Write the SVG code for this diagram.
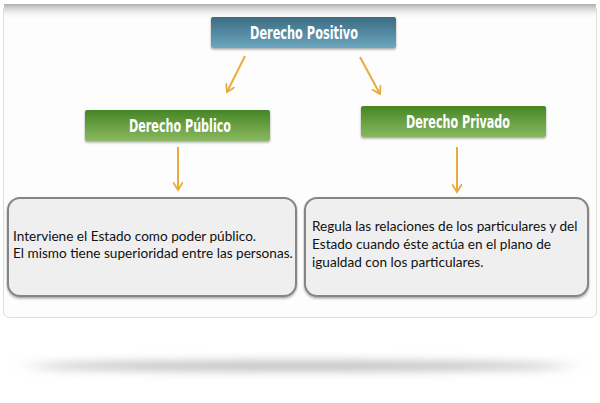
<svg xmlns="http://www.w3.org/2000/svg" width="600" height="403" viewBox="0 0 600 403">
<defs>
<linearGradient id="gBlue" x1="0" y1="0" x2="0" y2="1"><stop offset="0" stop-color="#3c6b82"/><stop offset="1" stop-color="#6ba7bf"/></linearGradient>
<linearGradient id="gGreen" x1="0" y1="0" x2="0" y2="1"><stop offset="0" stop-color="#468626"/><stop offset="1" stop-color="#8ab860"/></linearGradient>
<linearGradient id="gTop" x1="0" y1="0" x2="0" y2="1"><stop offset="0" stop-color="#b0b0b0"/><stop offset="1" stop-color="#ffffff" stop-opacity="0"/></linearGradient>
<filter id="blur" x="-10%" y="-200%" width="120%" height="500%"><feGaussianBlur stdDeviation="12 5"/></filter>
<filter id="sh" x="-5%" y="-10%" width="110%" height="130%"><feDropShadow dx="0" dy="1.5" stdDeviation="1.2" flood-color="#000" flood-opacity="0.35"/></filter>
<marker id="ah" viewBox="0 0 10 10" refX="8" refY="5" markerWidth="10" markerHeight="10" markerUnits="userSpaceOnUse" orient="auto"><path d="M0,0 L8,5 L0,10" fill="none" stroke="#e8ab3c" stroke-width="1.8"/></marker>
</defs>
<style>
.title{font-family:"DejaVu Sans",sans-serif;font-weight:bold;font-size:17.5px;fill:#ffffff;text-anchor:middle}
.body{font-family:"Lato","Liberation Sans",sans-serif;font-size:13.6px;fill:#111111}
.box{fill:#efefef;stroke:#858585;stroke-width:2}
.conn{stroke:#e8ab3c;stroke-width:2;fill:none}
</style>
<rect width="600" height="403" fill="#ffffff"/>
<ellipse cx="300" cy="366" rx="270" ry="5" fill="#bdbdbd" filter="url(#blur)"/>
<g id="panel">
<rect x="3.5" y="4.5" width="593" height="313" rx="6" fill="#fdfdfd" stroke="#dddddd" stroke-width="1"/>
<rect x="4" y="4" width="592" height="16" fill="url(#gTop)"/>
</g>
<g id="connectors">
<line class="conn" x1="245" y1="56" x2="227" y2="92" marker-end="url(#ah)"/>
<line class="conn" x1="360" y1="57" x2="380" y2="94" marker-end="url(#ah)"/>
<line class="conn" x1="178" y1="147" x2="178" y2="190" marker-end="url(#ah)"/>
<line class="conn" x1="457" y1="147" x2="457" y2="192" marker-end="url(#ah)"/>
</g>
<g id="n-positivo">
<rect x="211" y="17" width="185" height="31" rx="2" fill="url(#gBlue)" filter="url(#sh)"/>
<text class="title" x="304" y="39" textLength="108" lengthAdjust="spacingAndGlyphs">Derecho Positivo</text>
</g>
<g id="n-publico">
<rect x="85" y="110" width="185" height="31" rx="2" fill="url(#gGreen)" filter="url(#sh)"/>
<text class="title" x="180" y="132" textLength="102" lengthAdjust="spacingAndGlyphs">Derecho Público</text>
</g>
<g id="n-privado">
<rect x="361" y="106" width="185" height="31" rx="2" fill="url(#gGreen)" filter="url(#sh)"/>
<text class="title" x="458" y="128" textLength="104" lengthAdjust="spacingAndGlyphs">Derecho Privado</text>
</g>
<g id="d-publico">
<rect class="box" x="8" y="198" width="288" height="98" rx="12" filter="url(#sh)"/>
<text class="body" x="13" y="241">Interviene el Estado como poder público.</text>
<text class="body" x="13" y="258">El mismo tiene superioridad entre las personas.</text>
</g>
<g id="d-privado">
<rect class="box" x="305" y="198" width="283" height="98" rx="12" filter="url(#sh)"/>
<text class="body" x="312" y="231">Regula las relaciones de los particulares y del</text>
<text class="body" x="312" y="249">Estado cuando éste actúa en el plano de</text>
<text class="body" x="312" y="267">igualdad con los particulares.</text>
</g>
</svg>
